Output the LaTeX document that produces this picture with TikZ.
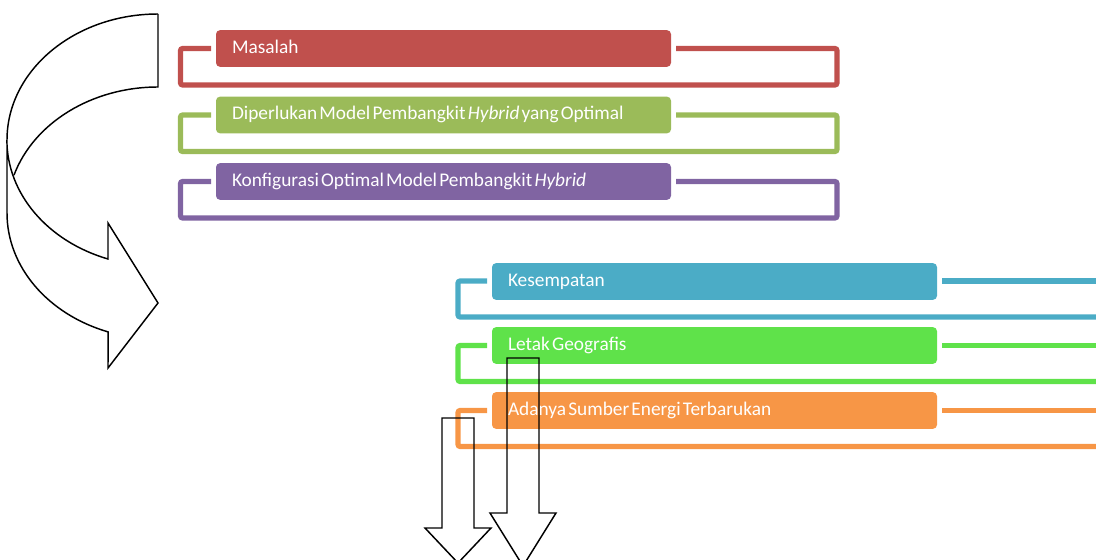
\documentclass[tikz,border=0pt]{standalone}
\usepackage{fontspec}
\setmainfont{Carlito}[WordSpace=0.5]
\definecolor{cred}{HTML}{C0504D}
\definecolor{cgreen}{HTML}{9BBB59}
\definecolor{cpurple}{HTML}{8064A2}
\definecolor{cblue}{HTML}{4BACC6}
\definecolor{clime}{HTML}{5FE24A}
\definecolor{corange}{HTML}{F79646}
\newcommand{\toptext}[1]{\makebox[317.25pt][l]{#1}}
\newcommand{\bottext}[1]{\makebox[309.75pt][l]{#1}}
\begin{document}
\begin{tikzpicture}[x=0.75pt,y=0.75pt,yscale=-1,
  box/.style={rounded corners=3pt, inner xsep=12pt, inner ysep=0pt,
    minimum height=27.5pt, text height=10pt, text depth=3pt,
    text=white, font=\fontsize{14.5}{16}\selectfont},
  brk/.style={line width=3.8pt, rounded corners=1.5pt},
  arr/.style={draw=black, line width=1.1pt, line join=miter}]
\useasboundingbox (0,0) rectangle (1096,560);
\clip (0,0) rectangle (1096,560);

% top group brackets
\draw[brk, cred]    (211,48.5)  -- (180.5,48.5)  -- (180.5,85)  -- (837,85)  -- (837,48.5)  -- (676,48.5);
\draw[brk, cgreen]  (211,115)   -- (180.5,115)   -- (180.5,151.5) -- (837,151.5) -- (837,115) -- (676,115);
\draw[brk, cpurple] (211,181.5) -- (180.5,181.5) -- (180.5,218) -- (837,218) -- (837,181.5) -- (676,181.5);

% top group boxes
\node[box, fill=cred]    (masalah) at (443.5,48.5)  {\toptext{Masalah}};
\node[box, fill=cgreen]  (perlu)   at (443.5,115)   {\toptext{Diperlukan Model Pembangkit \textit{Hybrid} yang Optimal}};
\node[box, fill=cpurple] (konf)    at (443.5,181.5) {\toptext{Konfigurasi Optimal Model Pembangkit \textit{Hybrid}}};

% bottom group brackets
\draw[brk, cblue]   (487,281) -- (458,281) -- (458,317) -- (1100,317);
\draw[brk, cblue]   (942,281) -- (1100,281);
\draw[brk, clime]   (487,345.5) -- (458,345.5) -- (458,381.5) -- (1100,381.5);
\draw[brk, clime]   (942,345.5) -- (1100,345.5);
\draw[brk, corange] (487,410.5) -- (458,410.5) -- (458,446.5) -- (1100,446.5);
\draw[brk, corange] (942,410.5) -- (1100,410.5);

% bottom group boxes
\node[box, fill=cblue]   (kesempatan) at (714.5,281.5) {\bottext{Kesempatan}};
\node[box, fill=clime]   (letak)      at (714.5,345.5) {\bottext{Letak Geografis}};
\node[box, fill=corange] (adanya)     at (714.5,410.5) {\bottext{Adanya Sumber Energi Terbarukan}};

% curved arrow
\draw[arr] (158,14) arc[start angle=270, end angle=180, x radius=151, y radius=126]
  -- (7,213) arc[start angle=180, end angle=109.3, x radius=151, y radius=126]
  -- (108,368) -- (158,303) -- (108,223) -- (108,259)
  arc[start angle=109.3, end angle=180, x radius=151, y radius=126];
\draw[arr] (158,14) -- (158,87) arc[start angle=270, end angle=197.5, x radius=151, y radius=126];

% down arrows
\draw[arr] (507,358) -- (539,358) -- (539,513) -- (556,513) -- (523,566) -- (490,513) -- (507,513) -- cycle;
\draw[arr] (442,418) -- (474,418) -- (474,528) -- (491,528) -- (458,563) -- (425,528) -- (442,528) -- cycle;
\end{tikzpicture}
\end{document}
